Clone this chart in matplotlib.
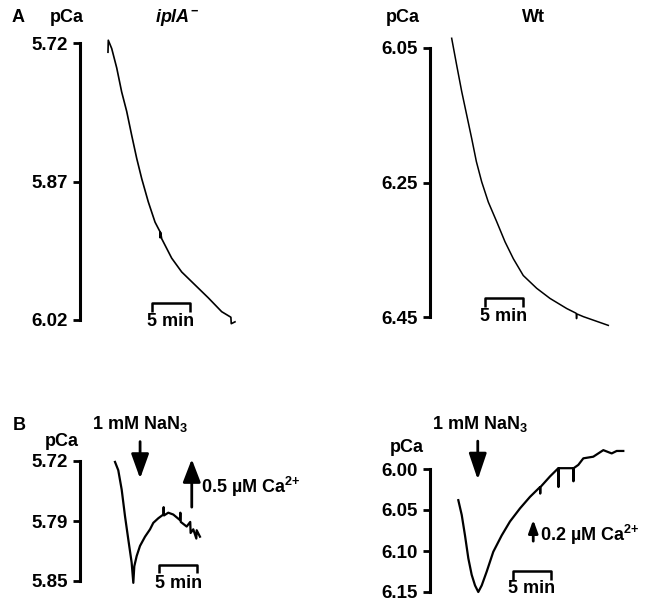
import matplotlib
matplotlib.use("Agg")
import matplotlib.pyplot as plt
from matplotlib.ticker import FixedLocator, FixedFormatter

plt.rcParams['font.family'] = ['Liberation Sans', 'DejaVu Sans']
plt.rcParams['font.weight'] = 'bold'
plt.rcParams['mathtext.fontset'] = 'custom'
plt.rcParams['mathtext.rm'] = 'Liberation Sans:bold'
plt.rcParams['mathtext.it'] = 'Liberation Sans:italic:bold'
plt.rcParams['mathtext.bf'] = 'Liberation Sans:bold'
plt.rcParams['mathtext.default'] = 'rm'

# ---------------- data (time in min, pCa) ----------------
# Panel A, iplA- mutant
a1_time = [0.13, 0.17, 0.62, 1.28, 1.93, 2.59, 3.25, 3.91, 4.57, 5.43, 6.32, 6.95, 7.0,
           7.05, 7.20, 8.51, 9.83, 11.58, 13.33, 15.09, 16.3, 16.35, 16.84]
a1_pca = [5.730, 5.717, 5.726, 5.747, 5.773, 5.794, 5.820, 5.845, 5.867, 5.892, 5.914,
          5.924, 5.931, 5.925, 5.932, 5.953, 5.968, 5.982, 5.996, 6.011, 6.017, 6.024, 6.022]
a1_ticks = [5.72, 5.87, 6.02]
a1_ticklabels = ['5.72', '5.87', '6.02']

# Panel A, wild type
a2_time = [0.22, 0.88, 1.54, 2.20, 2.86, 3.47, 4.17, 5.04, 6.14, 7.24, 8.33, 9.64,
           11.41, 13.16, 15.36, 16.6, 16.65, 16.7, 17.54, 20.83]
a2_pca = [6.036, 6.076, 6.115, 6.150, 6.185, 6.219, 6.249, 6.279, 6.308, 6.338, 6.363,
          6.388, 6.407, 6.422, 6.437, 6.444, 6.452, 6.445, 6.449, 6.462]
a2_ticks = [6.05, 6.25, 6.45]
a2_ticklabels = ['6.05', '6.25', '6.45']

# Panel B, iplA- mutant + NaN3
b1_time = [0.0, 0.43, 0.88, 1.32, 1.75, 2.19, 2.41, 2.54, 2.85, 3.29, 3.95, 4.61, 5.04,
           5.70, 6.36, 6.40, 6.45, 7.01, 7.67, 8.55, 8.60, 8.65, 9.43, 9.90, 9.95, 10.30,
           10.70, 10.75, 11.18]
b1_pca = [5.721, 5.730, 5.751, 5.780, 5.805, 5.830, 5.852, 5.834, 5.823, 5.812, 5.802,
          5.794, 5.787, 5.782, 5.778, 5.770, 5.779, 5.776, 5.778, 5.784, 5.776, 5.786,
          5.791, 5.786, 5.798, 5.794, 5.804, 5.795, 5.802]
b1_ticks = [5.72, 5.785, 5.85]
b1_ticklabels = ['5.72', '5.79', '5.85']
b1_nan3_time = 3.3
b1_ca_time = 10.1
b1_ca_label = r'0.5 µM Ca$^{\text{2+}}$'

# Panel B, wild type + NaN3
b2_time = [0.04, 0.49, 0.92, 1.36, 1.80, 2.24, 2.67, 3.12, 3.78, 4.64, 5.75, 6.84,
           8.16, 9.47, 10.79, 10.82, 10.85, 12.11, 13.20, 13.22, 13.25, 14.30, 15.17,
           15.19, 15.22, 15.83, 16.49, 17.80, 19.12, 20.22, 20.88, 21.75]
b2_pca = [6.038, 6.056, 6.081, 6.109, 6.129, 6.142, 6.150, 6.142, 6.125, 6.101, 6.081,
          6.064, 6.048, 6.034, 6.022, 6.030, 6.022, 6.009, 5.999, 6.022, 5.999, 5.999,
          5.999, 6.015, 5.999, 5.995, 5.987, 5.985, 5.977, 5.981, 5.978, 5.978]
b2_ticks = [6.00, 6.05, 6.10, 6.15]
b2_ticklabels = ['6.00', '6.05', '6.10', '6.15']
b2_nan3_time = 2.6
b2_ca_time = 9.9
b2_ca_label = r'0.2 µM Ca$^{\text{2+}}$'

scale_len = 5  # min

# ---------------- layout ----------------
W, H = 648, 607
PXMIN = 7.6  # pixels per minute
fig = plt.figure(figsize=(W / 100, H / 100), dpi=100)


def panel(spine_px, t0_px, right_px, top_px, bottom_px, v1, p1, v2, p2, ticks, labels):
    s = (v2 - v1) / (p2 - p1)
    ax = fig.add_axes([spine_px / W, 1 - bottom_px / H,
                       (right_px - spine_px) / W, (bottom_px - top_px) / H])
    ax.set_xlim((spine_px - t0_px) / PXMIN, (right_px - t0_px) / PXMIN)
    ax.set_ylim(v1 + (bottom_px - p1) * s, v1 + (top_px - p1) * s)
    for side in ('top', 'right', 'bottom'):
        ax.spines[side].set_visible(False)
    ax.spines['left'].set_linewidth(2.2)
    ax.spines['left'].set_bounds(min(ticks), max(ticks))
    ax.set_xticks([])
    ax.yaxis.set_major_locator(FixedLocator(ticks))
    ax.yaxis.set_major_formatter(FixedFormatter(labels))
    ax.tick_params(axis='y', length=5, width=2, pad=4, labelsize=13.5)
    ax.patch.set_alpha(0)
    ax.px = s
    return ax


def scalebar(ax, t, y, tick_px):
    d = tick_px * ax.px
    ax.plot([t, t, t + scale_len, t + scale_len], [y + d, y, y, y + d], color='k',
            lw=1.8, solid_capstyle='butt', clip_on=False)
    ax.annotate('5 min', xy=(t + scale_len / 2, y), xytext=(0, -7),
                textcoords='offset points', ha='center', va='top', fontsize=13)


def arrow(ax, t, tail, tip, hl, hw, ms):
    ax.annotate('', xy=(t, tip), xytext=(t, tail), annotation_clip=False,
                arrowprops=dict(arrowstyle=f'-|>,head_length={hl},head_width={hw}',
                                mutation_scale=ms, lw=2, color='k',
                                shrinkA=0, shrinkB=0))


# Panel A left
ax1 = panel(80, 107, 250, 25, 335, 5.72, 43, 6.02, 320, a1_ticks, a1_ticklabels)
ax1.plot(a1_time, a1_pca, color='k', lw=1.2, clip_on=False)
scalebar(ax1, 5.9, 6.0016, 9)

# Panel A right
ax2 = panel(430, 450, 630, 25, 335, 6.05, 47.7, 6.45, 317.3, a2_ticks, a2_ticklabels)
ax2.plot(a2_time, a2_pca, color='k', lw=1.1, clip_on=False)
scalebar(ax2, 4.6, 6.422, 9)

# Panel B left
ax3 = panel(80, 115, 250, 440, 600, 5.72, 461, 5.85, 581, b1_ticks, b1_ticklabels)
ax3.plot(b1_time, b1_pca, color='k', lw=1.6, clip_on=False)
scalebar(ax3, 5.8, 5.833, 8)
arrow(ax3, b1_nan3_time, 5.699, 5.739, 0.75, 0.27, 20)
arrow(ax3, b1_ca_time, 5.770, 5.718, 0.7, 0.27, 20)

# Panel B right
ax4 = panel(430, 458, 640, 440, 600, 6.00, 469, 6.15, 592, b2_ticks, b2_ticklabels)
ax4.plot(b2_time, b2_pca, color='k', lw=1.6, clip_on=False)
scalebar(ax4, 7.2, 6.124, 9)
arrow(ax4, b2_nan3_time, 5.966, 6.013, 0.8, 0.27, 20)
arrow(ax4, b2_ca_time, 6.088, 6.062, 0.55, 0.2, 14)


def ftext(x, y, s, **kw):
    kw.setdefault('fontsize', 13)
    fig.text(x / W, 1 - y / H, s, **kw)


ftext(12, 18, 'A', ha='left', va='center')
ftext(67, 18, 'pCa', ha='center', va='center')
ftext(177, 18, r'$\it{iplA}^{-}$', ha='center', va='center')
ftext(403, 18, 'pCa', ha='center', va='center')
ftext(533, 18, 'Wt', ha='center', va='center')

ftext(13, 425, 'B', ha='left', va='center')
ftext(62, 441, 'pCa', ha='center', va='center')
ftext(140, 424, '1 mM NaN$_3$', ha='center', va='center')
ftext(201, 487, b1_ca_label, ha='left', va='center')
ftext(407, 447, 'pCa', ha='center', va='center')
ftext(480, 424, '1 mM NaN$_3$', ha='center', va='center')
ftext(540, 535, b2_ca_label, ha='left', va='center')

fig.savefig('out.png', dpi=100)
